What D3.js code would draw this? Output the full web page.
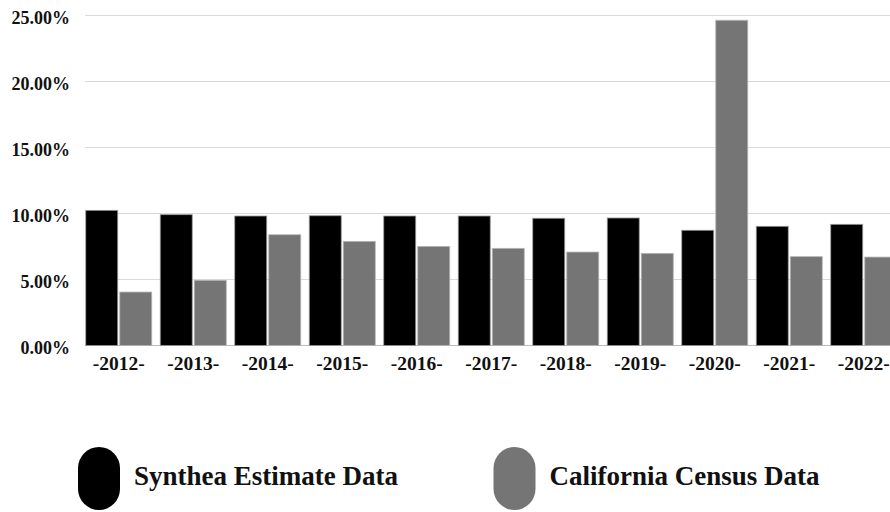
<!DOCTYPE html>
<html>
<head>
<meta charset="utf-8">
<script src="https://cdn.jsdelivr.net/npm/d3@7"></script>
<style>
  body { margin: 0; background: #fff; }
  svg { display: block; font-family: "Liberation Serif", "Times New Roman", serif; font-weight: bold; }
</style>
</head>
<body>
<script>
// Data
const years = ['2012', '2013', '2014', '2015', '2016', '2017', '2018', '2019', '2020', '2021', '2022'];
const seriesNames = ['Synthea Estimate Data', 'California Census Data'];
const synthea = [10.24, 9.91, 9.81, 9.83, 9.81, 9.81, 9.64, 9.66, 8.73, 9.03, 9.18];
const census = [4.05, 4.94, 8.39, 7.89, 7.51, 7.36, 7.08, 6.98, 24.64, 6.73, 6.70];
const yTicks = [0, 5, 10, 15, 20, 25];
const colors = ['#000000', '#757575'];

const width = 890;
const height = 512;

const svg = d3.select('body')
  .append('svg')
  .attr('width', width)
  .attr('height', height);

// Scales
const x0 = d3.scaleBand()
  .domain(years)
  .range([81.5, 81.5 + 74.5 * years.length])
  .paddingInner(0.114)
  .paddingOuter(0.057);

const x1 = d3.scaleBand()
  .domain(seriesNames)
  .range([0, x0.bandwidth()])
  .paddingInner(0.06);

const y = d3.scaleLinear()
  .domain([0, 25])
  .range([345.5, 15.5]);

// Gridlines
svg.append('g')
  .attr('class', 'grid')
  .selectAll('line')
  .data(yTicks)
  .enter()
  .append('line')
  .attr('x1', 85)
  .attr('x2', width)
  .attr('y1', d => y(d))
  .attr('y2', d => y(d))
  .attr('stroke', d => d === 0 ? '#bdbdbd' : '#dadada')
  .attr('stroke-width', 1.2);

// Y axis labels
const yAxis = d3.axisLeft(y)
  .tickValues(yTicks)
  .tickSize(0)
  .tickPadding(0)
  .tickFormat(d => d.toFixed(2) + '%');

svg.append('g')
  .attr('class', 'y-axis')
  .attr('transform', 'translate(70,0)')
  .call(yAxis)
  .call(g => g.select('.domain').remove())
  .call(g => g.selectAll('text')
    .attr('dy', '0.45em')
    .attr('fill', '#111')
    .style('font-size', '18px')
    .style('font-family', '"Liberation Serif", "Times New Roman", serif')
    .style('font-weight', 'bold'));

// Bars
const rows = years.map((yr, i) => ({ year: yr, values: [synthea[i], census[i]] }));

const groups = svg.append('g')
  .selectAll('.group')
  .data(rows)
  .enter()
  .append('g')
  .attr('class', 'group')
  .attr('transform', d => `translate(${x0(d.year)},0)`);

groups.selectAll('rect')
  .data(d => d.values.map((v, j) => ({ name: seriesNames[j], value: v, j: j })))
  .enter()
  .append('rect')
  .attr('x', d => x1(d.name))
  .attr('y', d => y(d.value))
  .attr('width', x1.bandwidth())
  .attr('height', d => y(0) - y(d.value))
  .attr('fill', d => colors[d.j])
  .attr('stroke', d => d.j === 0 ? '#9a9a9a' : '#b5b5b5')
  .attr('stroke-width', 0.8);

// X axis labels
const xAxis = d3.axisBottom(x0)
  .tickSize(0)
  .tickPadding(0)
  .tickFormat(d => '-' + d + '-');

svg.append('g')
  .attr('class', 'x-axis')
  .attr('transform', 'translate(0,355.5)')
  .call(xAxis)
  .call(g => g.select('.domain').remove())
  .call(g => g.selectAll('text')
    .attr('dy', '0.75em')
    .attr('fill', '#111')
    .style('font-size', '19.5px')
    .style('font-family', '"Liberation Serif", "Times New Roman", serif')
    .style('font-weight', 'bold'));

// Legend
const legendX = [99, 514.5];
const legend = svg.append('g').attr('class', 'legend');

legend.selectAll('.legend-item')
  .data(seriesNames)
  .enter()
  .append('g')
  .attr('class', 'legend-item')
  .attr('transform', (d, i) => `translate(${legendX[i]},478.5)`)
  .each(function (d, i) {
    d3.select(this)
      .append('rect')
      .attr('x', -21)
      .attr('y', -31.5)
      .attr('width', 42)
      .attr('height', 63)
      .attr('rx', 21)
      .attr('ry', 21)
      .attr('fill', colors[i]);

    d3.select(this)
      .append('text')
      .attr('x', 35)
      .attr('y', 6.5)
      .attr('fill', '#111')
      .style('font-size', '27px')
      .text(d);
  });
</script>
</body>
</html>
